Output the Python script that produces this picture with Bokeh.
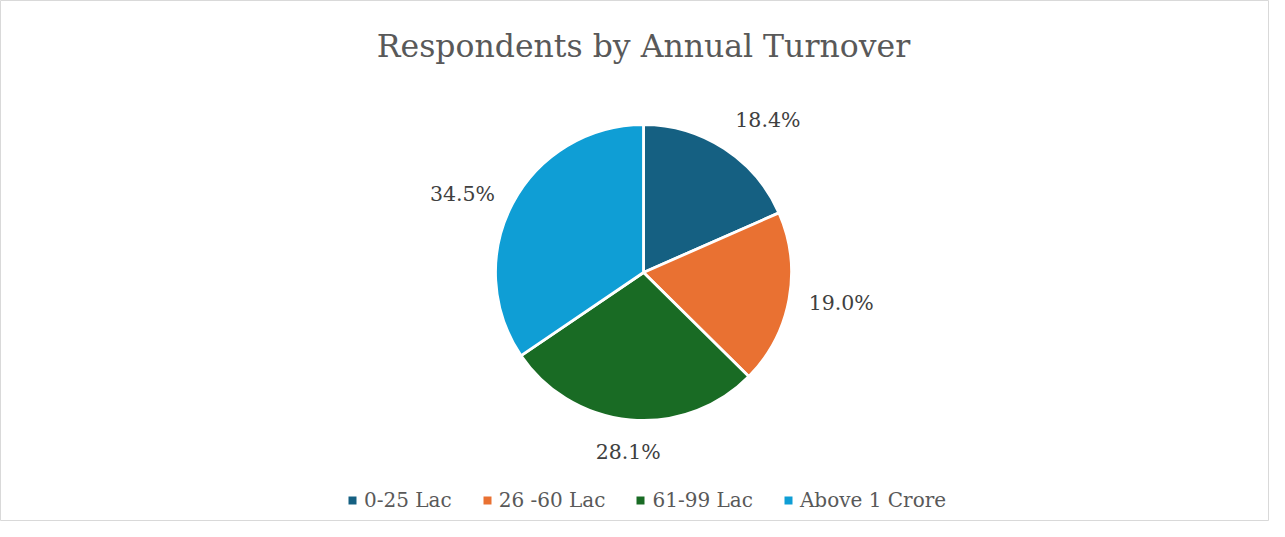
import math
from bokeh.plotting import figure
from bokeh.models import Range1d, Legend, LegendItem
from bokeh.core.properties import value
from bokeh.embed import file_html
from bokeh.resources import INLINE

# ---- data ----
categories = ["0-25 Lac", "26 -60 Lac", "61-99 Lac", "Above 1 Crore"]
shares = [18.4, 19.0, 28.1, 34.5]
colors = ["#156082", "#E97132", "#196B24", "#0F9ED5"]
title_text = "Respondents by Annual Turnover"

# ---- layout (image pixel coordinates; y measured from image top) ----
W, H = 1269, 521
IMG_H = 537
CX, CY_IMG, R = 643, 272, 148
CY = IMG_H - CY_IMG
FONT = "DejaVu Serif"

p = figure(width=W, height=H, output_backend="svg", toolbar_location=None,
           x_range=Range1d(0, W), y_range=Range1d(IMG_H - H, IMG_H),
           min_border=0, tools="")
p.axis.visible = False
p.grid.visible = False
p.outline_line_color = "#D9D9D9"
p.outline_line_width = 1
p.background_fill_color = "white"

total = sum(shares)
cum = 0.0
starts, ends, mids = [], [], []
for s in shares:
    a0 = math.pi / 2 - cum / total * 2 * math.pi
    cum += s
    a1 = math.pi / 2 - cum / total * 2 * math.pi
    starts.append(a0)
    ends.append(a1)
    mids.append((a0 + a1) / 2)

p.wedge(x=[CX] * len(shares), y=[CY] * len(shares), radius=R,
        start_angle=starts, end_angle=ends, direction="clock",
        fill_color=colors, line_color="white", line_width=2.8)

# data labels
d = R + 20
for s, a in zip(shares, mids):
    ca, sa = math.cos(a), math.sin(a)
    align = "left" if ca > 0.3 else ("right" if ca < -0.3 else "center")
    base = "bottom" if sa > 0.5 else ("top" if sa < -0.5 else "middle")
    p.text(x=[CX + d * ca], y=[CY + d * sa], text=[f"{s:.1f}%"],
           text_align=align, text_baseline=base,
           text_font=value(FONT), text_font_size="20.5px", text_color="#404040")

# title
p.text(x=[CX], y=[IMG_H - 45], text=[title_text], text_align="center",
       text_baseline="alphabetic", text_font=value(FONT),
       text_font_size="31.5px", text_color="#595959")

# legend (proxy renderers placed outside the visible range)
items = []
for c, lab in zip(colors, categories):
    r = p.quad(left=[-50], right=[-40], top=[-50], bottom=[-60],
               fill_color=c, line_color=None)
    items.append(LegendItem(label=lab, renderers=[r]))
legend = Legend(items=items, orientation="horizontal", location=(347, 9),
                glyph_width=10, glyph_height=10, label_standoff=7, spacing=30,
                padding=0, margin=0, border_line_color=None,
                background_fill_alpha=0,
                label_text_font=FONT, label_text_font_size="20px",
                label_text_color="#595959", label_height=20)
p.add_layout(legend, "center")

open("out.html", "w").write(file_html(p, INLINE))
